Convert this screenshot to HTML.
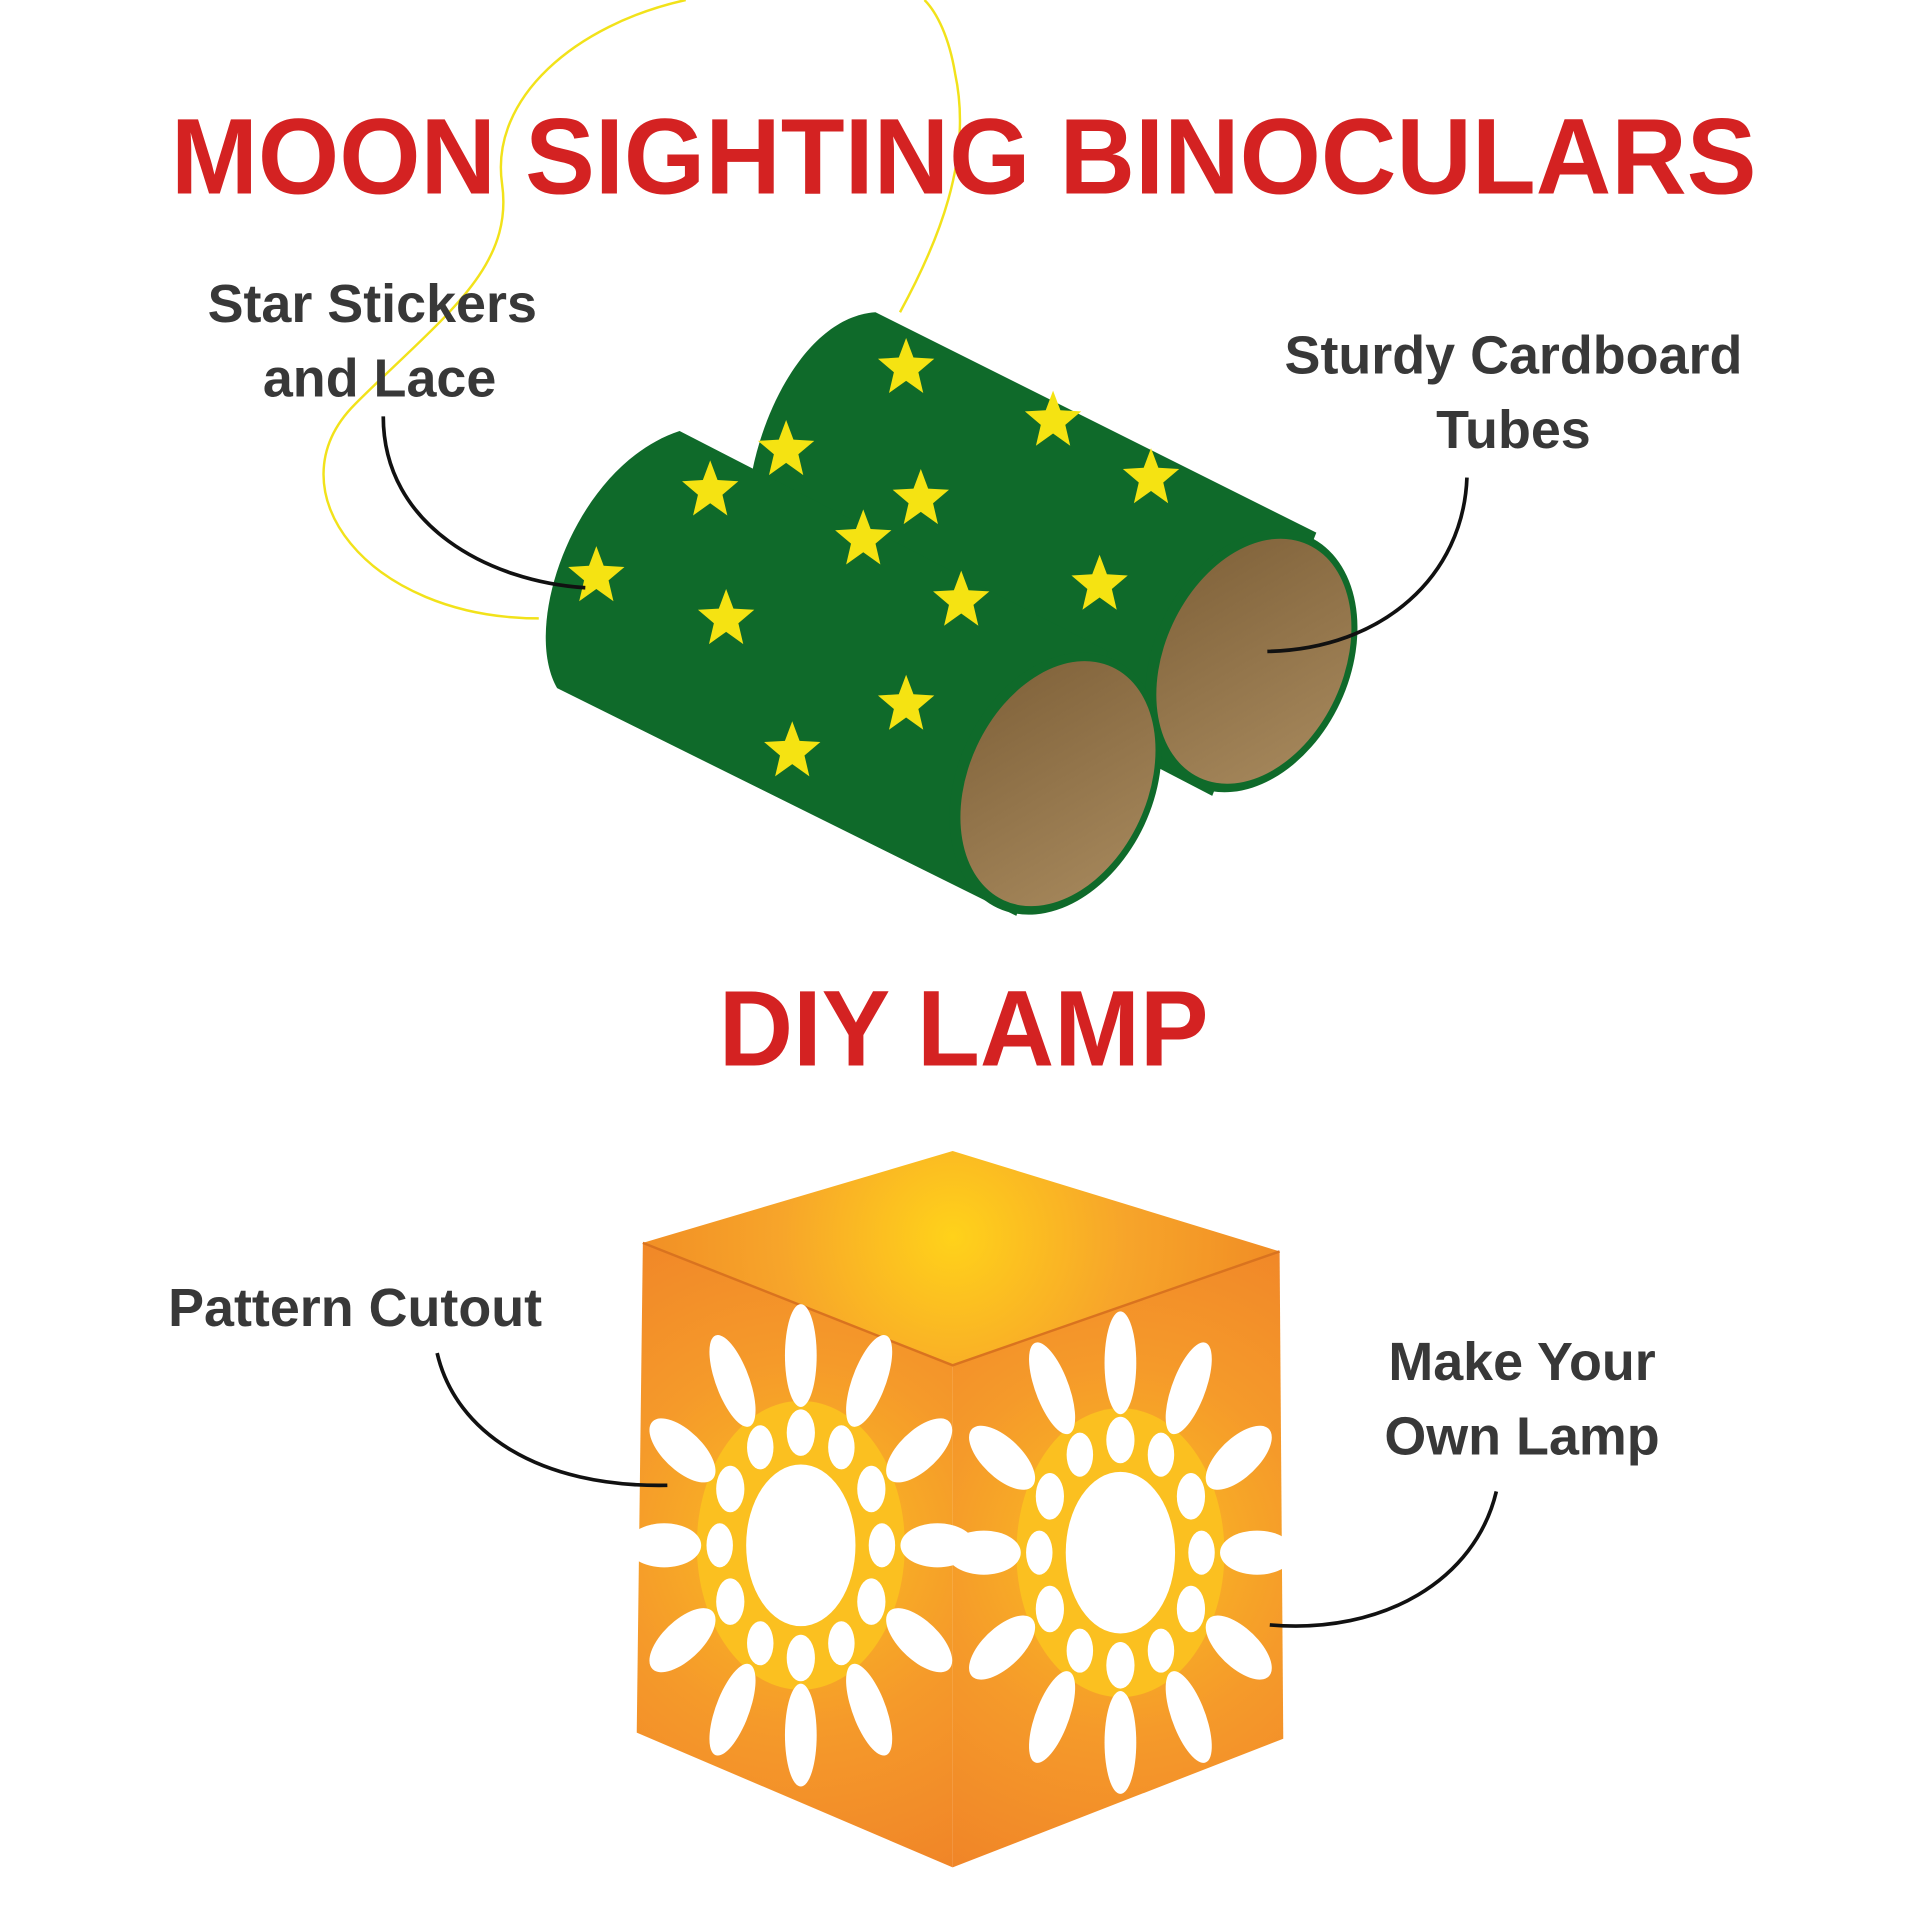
<!DOCTYPE html>
<html><head><meta charset="utf-8"><style>
html,body{margin:0;padding:0;background:#fff;}
svg{display:block;}
text{font-family:"Liberation Sans",sans-serif;font-weight:bold;}
</style></head><body>
<svg width="1920" height="1920" viewBox="0 0 1568 1568" xmlns="http://www.w3.org/2000/svg">
<defs>
<polygon id="st" points="0,-24 6,-8 23,-7 10,4 14,21 0,11 -14,21 -10,4 -23,-7 -6,-8" fill="#f5e312"/>
<radialGradient id="gTop" cx="778" cy="1010" r="280" gradientUnits="userSpaceOnUse">
<stop offset="0" stop-color="#ffd21a"/><stop offset="0.5" stop-color="#f7a52a"/><stop offset="1" stop-color="#f08a24"/></radialGradient>
<radialGradient id="gL" cx="655" cy="1260" r="300" gradientUnits="userSpaceOnUse">
<stop offset="0" stop-color="#fbbf22"/><stop offset="0.5" stop-color="#f59a2a"/><stop offset="1" stop-color="#f08428"/></radialGradient>
<radialGradient id="gR" cx="915" cy="1265" r="300" gradientUnits="userSpaceOnUse">
<stop offset="0" stop-color="#fbbf22"/><stop offset="0.5" stop-color="#f59a2a"/><stop offset="1" stop-color="#f08428"/></radialGradient>
<linearGradient id="br" x1="0" y1="0" x2="1" y2="1">
<stop offset="0" stop-color="#7e6038"/><stop offset="1" stop-color="#a88a5e"/></linearGradient>
<g id="flw">
<g transform="scale(0.72,1)">
<circle r="118" fill="#fbc020"/>
<ellipse rx="62" ry="66" fill="#fff"/>
<g fill="#fff">
<ellipse cx="0" cy="-92" rx="16" ry="19"/><ellipse cx="0" cy="92" rx="16" ry="19"/>
<ellipse cx="-80" cy="-46" rx="16" ry="19"/><ellipse cx="80" cy="-46" rx="16" ry="19"/>
<ellipse cx="-80" cy="46" rx="16" ry="19"/><ellipse cx="80" cy="46" rx="16" ry="19"/>
<ellipse cx="-46" cy="-80" rx="15" ry="18"/><ellipse cx="46" cy="-80" rx="15" ry="18"/>
<ellipse cx="-46" cy="80" rx="15" ry="18"/><ellipse cx="46" cy="80" rx="15" ry="18"/>
<ellipse cx="-92" cy="0" rx="15" ry="18"/><ellipse cx="92" cy="0" rx="15" ry="18"/>
</g>
<g fill="#fff">
<ellipse cx="0" cy="-155" rx="18" ry="42"/>
<ellipse cx="0" cy="-155" rx="18" ry="42" transform="rotate(30)"/>
<ellipse cx="0" cy="-155" rx="18" ry="42" transform="rotate(60)"/>
<ellipse cx="0" cy="-155" rx="18" ry="42" transform="rotate(90)"/>
<ellipse cx="0" cy="-155" rx="18" ry="42" transform="rotate(120)"/>
<ellipse cx="0" cy="-155" rx="18" ry="42" transform="rotate(150)"/>
<ellipse cx="0" cy="-155" rx="18" ry="42" transform="rotate(180)"/>
<ellipse cx="0" cy="-155" rx="18" ry="42" transform="rotate(210)"/>
<ellipse cx="0" cy="-155" rx="18" ry="42" transform="rotate(240)"/>
<ellipse cx="0" cy="-155" rx="18" ry="42" transform="rotate(270)"/>
<ellipse cx="0" cy="-155" rx="18" ry="42" transform="rotate(300)"/>
<ellipse cx="0" cy="-155" rx="18" ry="42" transform="rotate(330)"/>
</g>
</g>
</g>
</defs>

<!-- lace -->
<path d="M440 505 C300 505 220 400 290 330 C360 260 420 220 410 150 C400 80 470 20 560 0" fill="none" stroke="#f2e21a" stroke-width="2"/>
<path d="M735 255 C765 200 795 130 780 60 C775 30 765 10 755 0" fill="none" stroke="#f2e21a" stroke-width="2"/>

<!-- titles -->
<text x="787" y="158" font-size="88" fill="#d42222" text-anchor="middle" textLength="1295" lengthAdjust="spacingAndGlyphs">MOON SIGHTING BINOCULARS</text>
<text x="787" y="870" font-size="88" fill="#d42222" text-anchor="middle" textLength="400" lengthAdjust="spacingAndGlyphs">DIY LAMP</text>

<!-- back tube -->
<path d="M715 255 L1075 435 L990 650 L615 455 C595 400 640 260 715 255Z" fill="#0f6a2a"/>
<ellipse cx="1022" cy="540" rx="80" ry="112" transform="rotate(25 1022 540)" fill="#0f6a2a"/>
<ellipse cx="1024" cy="540" rx="73" ry="105" transform="rotate(25 1024 540)" fill="url(#br)"/>
<!-- front tube -->
<path d="M555 352 L905 532 L830 748 L455 562 C425 510 470 380 555 352Z" fill="#0f6a2a"/>
<ellipse cx="862" cy="640" rx="80" ry="112" transform="rotate(25 862 640)" fill="#0f6a2a"/>
<ellipse cx="864" cy="640" rx="73" ry="105" transform="rotate(25 864 640)" fill="url(#br)"/>
<!-- stars -->
<use href="#st" x="740" y="300"/><use href="#st" x="642" y="367"/><use href="#st" x="860" y="343"/>
<use href="#st" x="752" y="407"/><use href="#st" x="940" y="390"/><use href="#st" x="580" y="400"/>
<use href="#st" x="705" y="440"/><use href="#st" x="487" y="470"/><use href="#st" x="785" y="490"/>
<use href="#st" x="898" y="477"/><use href="#st" x="593" y="505"/><use href="#st" x="740" y="575"/>
<use href="#st" x="647" y="613"/>

<!-- lamp -->
<polygon points="525,1015 778,940 1045,1022 778,1115" fill="url(#gTop)"/>
<polygon points="525,1015 778,1115 778,1525 520,1415" fill="url(#gL)"/>
<polygon points="778,1115 1045,1022 1048,1420 778,1525" fill="url(#gR)"/>
<path d="M525 1015 L778 1115 L1045 1022" fill="none" stroke="#d9731f" stroke-width="2"/>
<use href="#flw" x="654" y="1262"/>
<use href="#flw" x="915" y="1268"/>

<!-- labels -->
<g font-size="44" fill="#383838" text-anchor="middle">
<text x="304" y="263">Star Stickers</text>
<text x="310" y="324">and Lace</text>
<text x="1236" y="305">Sturdy Cardboard</text>
<text x="1236" y="366">Tubes</text>
<text x="290" y="1083">Pattern Cutout</text>
<text x="1243" y="1127">Make Your</text>
<text x="1243" y="1188">Own Lamp</text>
</g>
<g fill="none" stroke="#111" stroke-width="3">
<path d="M313 340 C313 430 400 475 478 480"/>
<path d="M1198 390 C1195 470 1130 530 1035 532"/>
<path d="M357 1105 C372 1170 440 1215 545 1213"/>
<path d="M1222 1218 C1205 1290 1130 1335 1037 1327"/>
</g>
</svg>
</body></html>
